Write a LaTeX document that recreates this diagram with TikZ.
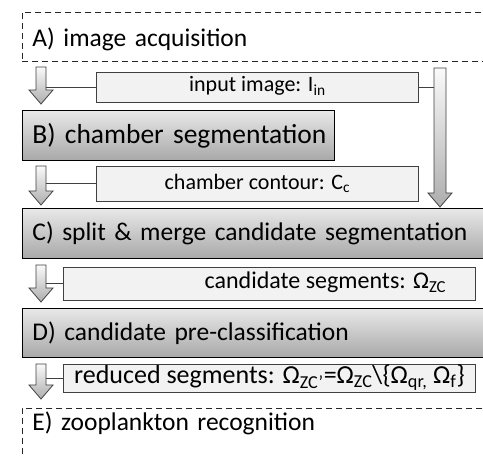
\documentclass[tikz,border=0pt]{standalone}
\usepackage{fontspec}
\setmainfont{Carlito}
\usepackage{tikz}
\usetikzlibrary{positioning}

\tikzset{
  stage/.style={draw=black, line width=.9pt, top color=black!9, bottom color=black!34,
    anchor=north west, inner xsep=10pt, align=left, font=\fontsize{25.5}{28}\selectfont},
  openstage/.style={draw=black!85, line width=.9pt, dash pattern=on 6pt off 4pt,
    anchor=north west, inner xsep=10pt, align=left, font=\fontsize{25.5}{28}\selectfont},
  databox/.style={draw=black!75, line width=.8pt, fill=black!5, anchor=west, align=center,
    inner ysep=1pt},
  link/.style={draw=black!75, line width=.8pt},
  arrowfill/.style={draw=black!75, line width=.8pt, top color=black!2, bottom color=black!32}
}

% block arrow pointing down: x, top, tip, half width of the shaft
\newcommand{\blockarrow}[4]{%
  \shade[arrowfill] (#1-#4,#2) -- (#1+#4,#2) -- (#1+#4,#3-14) -- (#1+12,#3-14)
    -- (#1,#3) -- (#1-12,#3-14) -- (#1-#4,#3-14) -- cycle;}

\begin{document}
\begin{tikzpicture}[x=1pt,y=-1pt]
  \useasboundingbox (0,0) rectangle (483,457);
  \clip (0,0) rectangle (483,457);
 %arrows down the left side
    \blockarrow{41}{67}{104}{5}
    \blockarrow{41}{166}{205}{5}
    \blockarrow{41}{265}{302}{5}
    \blockarrow{41}{364}{399}{5}
 %long arrow on the right
    \blockarrow{440}{68}{207}{6}
    \coordinate (sl) at (46,0);
    \coordinate (sr) at (434,0);
 %processing stages
    \node[openstage, minimum width=480pt, minimum height=49pt, text width=460pt, text height=25pt, text depth=6pt] (A) at (22,12) {A) image acquisition};
    \node[stage, minimum width=312pt, minimum height=50pt, text width=292pt, font=\fontsize{27.5}{30}\selectfont] (B) at (22,110) {\mbox{B) chamber segmentation}};
    \node[stage, minimum width=480pt, minimum height=50pt, text width=460pt] (C) at (22,208) {C) split \& merge candidate segmentation};
    \node[stage, minimum width=480pt, minimum height=49pt, text width=460pt] (D) at (22,308) {D) candidate pre-classification};
    \node[openstage, minimum width=480pt, minimum height=70pt, text width=460pt, text depth=44pt] (E) at (22,408) {E) zooplankton recognition};
 %intermediate results
    \node[databox, minimum width=322pt, minimum height=30pt, font=\fontsize{22}{23}\selectfont,
      text height=15pt, text depth=5pt] (in) at (96,87) {input image: I\textsubscript{in}};
    \node[databox, minimum width=322pt, minimum height=35pt, font=\fontsize{22}{24}\selectfont] (cc) at (96,183.5) {chamber contour: C\textsubscript{c}};
    \node[databox, minimum width=412pt, minimum height=33pt, font=\fontsize{24}{26}\selectfont,
      text height=17pt, text depth=6pt] (zc) at (63,283.5) {\hspace*{112pt}candidate segments: Ω\textsubscript{ZC}};
    \node[databox, minimum width=412pt, minimum height=28pt, font=\fontsize{26}{27}\selectfont,
      text height=18pt, text depth=6pt] (red) at (63,378) {reduced segments: Ω\textsubscript{ZC'}=Ω\textsubscript{ZC}\textbackslash\{Ω\textsubscript{qr,} Ω\textsubscript{f}\}};
 %links to the arrows
    \draw[link] (in.west) -- (in.west -| sl);
    \draw[link] (in.east) -- (in.east -| sr);
    \draw[link] (cc.west) -- (cc.west -| sl);
    \draw[link] (zc.west) -- (zc.west -| sl);
    \draw[link] (red.west) -- (red.west -| sl);
\end{tikzpicture}
\end{document}
